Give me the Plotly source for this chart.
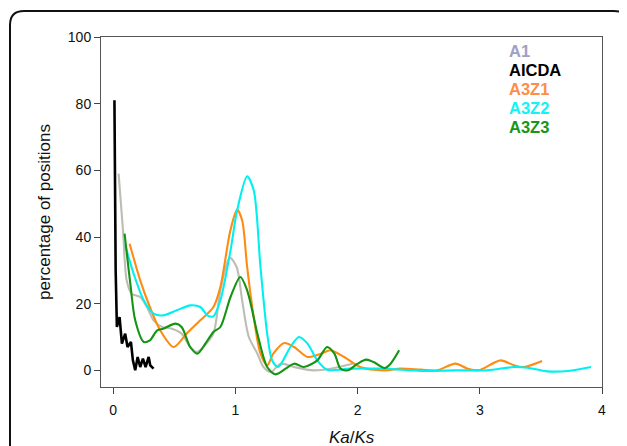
import plotly.graph_objects as go

# ---- data ----
a1_x = [0.044, 0.08, 0.11, 0.15, 0.22, 0.276, 0.33, 0.40, 0.48, 0.56, 0.63, 0.686, 0.75, 0.82, 0.877, 0.953,
        1.01, 1.055, 1.11, 1.18, 1.23, 1.29, 1.37, 1.48, 1.64, 1.78, 1.96]
a1_y = [59, 42, 27, 23, 22, 19, 15, 13, 12.5, 11, 7, 5.5, 7.5, 11, 24, 33.8,
        31, 21, 10, 5, 1, -0.5, 2, 1, 0, 0.5, 2]

aicda_x = [0.01, 0.02, 0.03, 0.052, 0.071, 0.098, 0.117, 0.145, 0.161, 0.18, 0.2, 0.221, 0.243, 0.265,
           0.29, 0.303, 0.33]
aicda_y = [81, 30, 13, 16, 8, 11, 7, 8.5, 3, 0, 4, 1, 3.5, 1, 4, 1.5, 0.5]

a3z1_x = [0.134, 0.221, 0.30, 0.385, 0.494, 0.60, 0.713, 0.82, 0.877, 0.959, 1.014, 1.055, 1.096, 1.15,
          1.205, 1.26, 1.31, 1.40, 1.48, 1.59, 1.70, 1.78, 1.89, 2.02, 2.22, 2.35, 2.52, 2.65, 2.80, 2.90,
          2.99, 3.17, 3.28, 3.36, 3.51]
a3z1_y = [38, 27, 19, 12, 7, 11, 15, 19, 25, 42, 48.2, 45, 31, 16,
          5, 1.5, 5, 8.2, 7, 4, 5, 6, 4, 1, 0, 0.5, 0.2, 0, 2, 0.5,
          0, 3, 1.5, 1, 2.8]

a3z2_x = [0.098, 0.167, 0.25, 0.33, 0.41, 0.52, 0.63, 0.713, 0.77, 0.82, 0.877, 0.96, 1.014, 1.096,
          1.15, 1.205, 1.26, 1.30, 1.35, 1.45, 1.52, 1.59, 1.67, 1.75, 1.94, 2.22, 2.52, 2.79, 3.06,
          3.28, 3.39, 3.55, 3.72, 3.91]
a3z2_y = [37.5, 29, 21, 17, 16.5, 18, 19.5, 19, 16.5, 16.2, 21, 36, 48, 58.2,
          54, 31, 11, 3, 1, 7, 10, 8, 3, 0.2, 0.5, 0.5, -0.2, 0, 0,
          1, 0.8, -0.3, -0.2, 1]

a3z3_x = [0.093, 0.14, 0.18, 0.25, 0.30, 0.36, 0.41, 0.51, 0.56, 0.63, 0.69, 0.754, 0.82, 0.877, 0.96,
          1.04, 1.096, 1.18, 1.26, 1.33, 1.48, 1.56, 1.67, 1.75, 1.81, 1.86, 1.92, 2.0, 2.07, 2.13,
          2.22, 2.27, 2.34]
a3z3_y = [41, 26, 15, 8.5, 9, 12, 12.5, 14, 13, 7, 5, 8, 11.5, 13, 22,
          28, 24, 11, 1, -1.2, 2, 1, 3, 7, 5, 0.5, 0, 2, 3.2, 2.5,
          0.7, 2, 6]

series_names = ["A1", "AICDA", "A3Z1", "A3Z2", "A3Z3"]
line_colors = ["#bdbdb5", "#000000", "#ff8c10", "#00f0f0", "#139413"]
label_colors = ["#a0a0c4", "#000000", "#ff8c48", "#10f4f4", "#189618"]

x_ticks = [0, 1, 2, 3, 4]
y_ticks = [0, 20, 40, 60, 80, 100]

fig = go.Figure()
data = [(a1_x, a1_y), (aicda_x, aicda_y), (a3z1_x, a3z1_y), (a3z2_x, a3z2_y), (a3z3_x, a3z3_y)]
order = [0, 2, 3, 4, 1]
for i in order:
    xs, ys = data[i]
    fig.add_trace(go.Scatter(
        x=xs, y=ys, mode="lines", name=series_names[i],
        line=dict(color=line_colors[i], width=2.6 if i == 1 else 2.1,
                  shape="linear" if i == 1 else "spline", smoothing=0.8),
        showlegend=False))

PW, PH = 501, 350  # plot area in px

# text legend
for k, name in enumerate(series_names):
    fig.add_annotation(x=(507 - 101) / PW, y=(387 - (51 + 19 * k)) / PH,
                       xref="paper", yref="paper", xanchor="left", yanchor="middle",
                       text="<b>%s</b>" % name, showarrow=False,
                       font=dict(family="Liberation Sans, Arial", size=16.5, color=label_colors[k]))

title_font = dict(family="Liberation Sans, Arial", size=17, color="#111")
# x axis title
fig.add_annotation(x=0.5, y=-50 / PH, xref="paper", yref="paper", xanchor="center", yanchor="middle",
                   text="<i>Ka</i>/<i>Ks</i>", showarrow=False, font=title_font)

# outer rounded frame
L, T, R, B = -91 / PW, 376 / PH, 527 / PW, -80 / PH
rx, ry = 14 / PW, 14 / PH
path = (f"M {L},{B} L {L},{T-ry} Q {L},{T} {L+rx},{T} L {R-rx},{T} Q {R},{T} {R},{T-ry} "
        f"L {R},{B}")
fig.add_shape(type="path", path=path, xref="paper", yref="paper",
              line=dict(color="#111111", width=2))

axis_font = dict(family="Liberation Sans, Arial", size=14, color="#111111")
fig.update_xaxes(range=[-0.1, 4], tickvals=x_ticks, ticks="outside", ticklen=6, tickcolor="#444",
                 showline=True, linecolor="#555", linewidth=1, mirror=True, showgrid=False,
                 zeroline=False, tickfont=axis_font, ticklabelstandoff=4, automargin=False)
fig.update_yaxes(range=[-5, 100], tickvals=y_ticks, ticks="outside", ticklen=6, tickcolor="#444",
                 showline=True, linecolor="#555", linewidth=1, mirror=True, showgrid=False,
                 zeroline=False, tickfont=axis_font, automargin=False,
                 title=dict(text="percentage of positions", font=title_font, standoff=12))

fig.update_layout(width=619, height=438, margin=dict(l=93, r=25, t=29, b=59),
                  paper_bgcolor="white", plot_bgcolor="white")

fig.write_html("out.html")
